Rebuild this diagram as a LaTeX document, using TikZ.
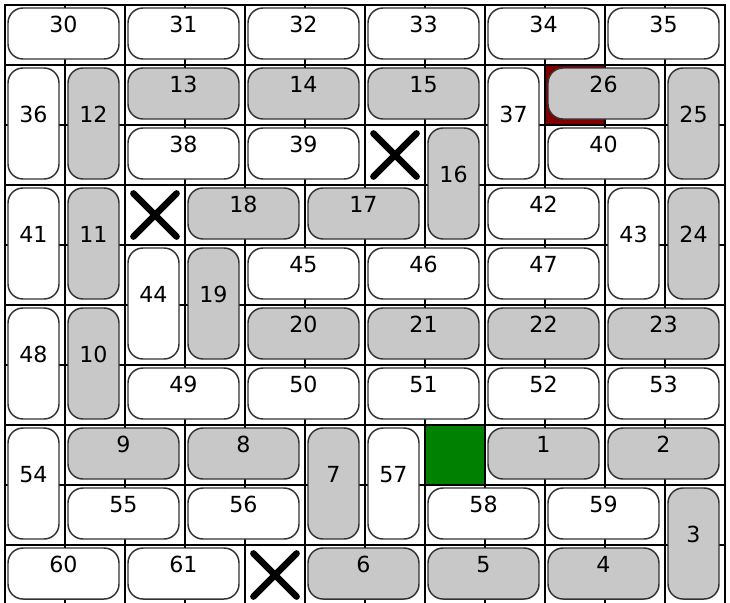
\documentclass[tikz,border=0pt]{standalone}
\usepackage{fontspec}
\setmainfont{DejaVu Sans}
\usetikzlibrary{shapes.misc}
\definecolor{gris}{RGB}{200,200,200}
\definecolor{rojo}{RGB}{128,0,0}
\definecolor{verde}{RGB}{0,128,0}

\begin{document}
\begin{tikzpicture}[
    ficha/.style={draw=black!80, line width=0.7pt, rounded corners=0.25cm, inner sep=0pt},
    fichah/.style={ficha, minimum width=1.85cm, minimum height=0.85cm},
    fichav/.style={ficha, minimum width=0.85cm, minimum height=1.85cm},
    numero/.style={font=\fontsize{10.5}{12}\selectfont, inner sep=0pt, yshift=0.15cm},
    cruz/.style={cross out, draw=black, line width=3.1pt, line cap=round, minimum size=0.72cm, inner sep=0pt, outer sep=0pt}
]

% Marco de la imagen
\useasboundingbox (-0.0833,0.0833) rectangle (12.0833,-9.95);
\fill[white] (-0.0833,0.0833) rectangle (12.0833,-9.95);

% Casillas coloreadas
\fill[rojo] (9,-1) rectangle (10,-2);
\fill[verde] (7,-7) rectangle (8,-8);

% Rejilla de 12 x 10
\draw[line width=1pt] (0,-10) grid (12,0);
\draw[line width=1pt] (0,0) rectangle (12,-10);

% Fichas horizontales
% Formato: numero, color, columna, fila
\foreach \num/\fondo/\c/\r in {
    30/white/0/0, 31/white/2/0, 32/white/4/0, 33/white/6/0, 34/white/8/0, 35/white/10/0,
    13/gris/2/1, 14/gris/4/1, 15/gris/6/1, 26/gris/9/1,
    38/white/2/2, 39/white/4/2, 40/white/9/2,
    18/gris/3/3, 17/gris/5/3, 42/white/8/3,
    45/white/4/4, 46/white/6/4, 47/white/8/4,
    20/gris/4/5, 21/gris/6/5, 22/gris/8/5, 23/gris/10/5,
    49/white/2/6, 50/white/4/6, 51/white/6/6, 52/white/8/6, 53/white/10/6,
    9/gris/1/7, 8/gris/3/7, 1/gris/8/7, 2/gris/10/7,
    55/white/1/8, 56/white/3/8, 58/white/7/8, 59/white/9/8,
    60/white/0/9, 61/white/2/9, 6/gris/5/9, 5/gris/7/9, 4/gris/9/9
} {
    \node[fichah, fill=\fondo, label={[numero]center:\num}] (f\num) at ({\c+0.975},{-\r-0.475}) {};
}

% Fichas verticales
\foreach \num/\fondo/\c/\r in {
    36/white/0/1, 12/gris/1/1, 37/white/8/1, 25/gris/11/1,
    16/gris/7/2,
    41/white/0/3, 11/gris/1/3, 43/white/10/3, 24/gris/11/3,
    44/white/2/4, 19/gris/3/4,
    48/white/0/5, 10/gris/1/5,
    54/white/0/7, 7/gris/5/7, 57/white/6/7,
    3/gris/11/8
} {
    \node[fichav, fill=\fondo, label={[numero]center:\num}] (f\num) at ({\c+0.475},{-\r-0.975}) {};
}

% Casillas bloqueadas
\node[cruz] (x1) at (6.5,-2.5) {};
\node[cruz] (x2) at (2.5,-3.5) {};
\node[cruz] (x3) at (4.5,-9.5) {};
\end{tikzpicture}
\end{document}
